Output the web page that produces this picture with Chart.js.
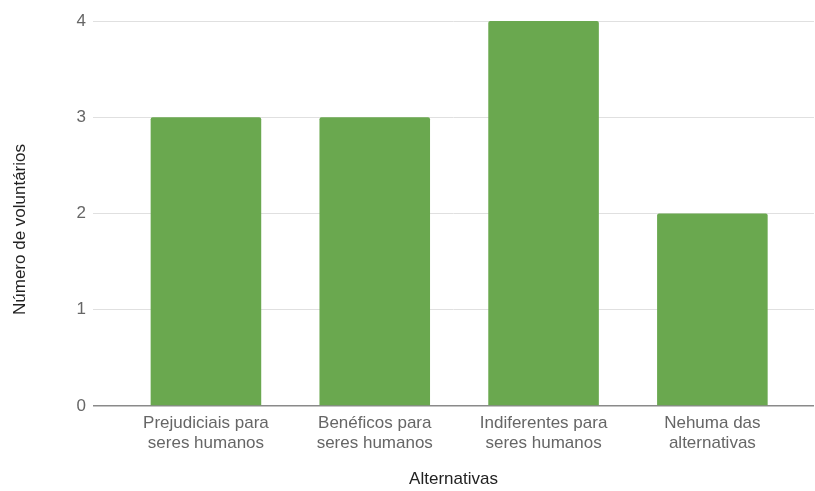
<!DOCTYPE html>
<html>
<head>
<meta charset="utf-8">
<script src="https://cdn.jsdelivr.net/npm/chart.js@4/dist/chart.umd.min.js"></script>
<style>
  html, body { margin: 0; padding: 0; background: #fff; }
  #wrap { width: 815px; height: 491px; }
</style>
</head>
<body>
<div id="wrap"><canvas id="barChart"></canvas></div>
<script>
// answers per alternative
const categories = [
    ['Prejudiciais para', 'seres humanos'],
    ['Benéficos para', 'seres humanos'],
    ['Indiferentes para', 'seres humanos'],
    ['Nehuma das', 'alternativas']
];
const volunteers = [3, 3, 4, 2];
const yTicks = [0, 1, 2, 3, 4];

const yTitle = 'Número de voluntários';
const xTitle = 'Alternativas';

const fontFamily = 'Arial, "Liberation Sans", sans-serif';

// y title is drawn by hand so it can sit a bit lower than the axis middle
const yTitlePlugin = {
    id: 'yTitle',
    afterDraw(chart) {
        const { ctx, chartArea } = chart;
        ctx.save();
        ctx.translate(20, (chartArea.top + chartArea.bottom) / 2 + 16);
        ctx.rotate(-Math.PI / 2);
        ctx.font = '17px ' + fontFamily;
        ctx.fillStyle = '#222';
        ctx.textAlign = 'center';
        ctx.textBaseline = 'middle';
        ctx.fillText(yTitle, 0, 0);
        ctx.restore();
    }
};

const ctx = document.getElementById('barChart').getContext('2d');
const myBarChart = new Chart(ctx, {
    type: 'bar',
    data: {
        datasets: [{
            data: volunteers.map((v, i) => ({ x: i, y: v })),
            backgroundColor: '#6aa84f',
            borderRadius: 2,
            borderSkipped: 'bottom',
            barPercentage: 1,
            categoryPercentage: 0.655
        }]
    },
    options: {
        responsive: true,
        maintainAspectRatio: false,
        animation: false,
        layout: {
            padding: { top: 21, right: 1, bottom: 0, left: 0 }
        },
        plugins: {
            legend: { display: false },
            tooltip: { enabled: false }
        },
        scales: {
            x: {
                type: 'linear',
                offset: false,
                min: -0.669,
                max: 3.602,
                grid: { display: false, drawTicks: false },
                border: { display: false },
                afterBuildTicks: function (scale) {
                    scale.ticks = categories.map((_, i) => ({ value: i }));
                },
                afterFit: function (scale) {
                    scale.height = 85;
                },
                ticks: {
                    autoSkip: false,
                    maxRotation: 0,
                    padding: 7,
                    color: '#666',
                    font: { family: fontFamily, size: 17 },
                    callback: function (value) {
                        return categories[value];
                    }
                },
                title: {
                    display: true,
                    text: xTitle,
                    color: '#222',
                    padding: { top: 0, bottom: 1 },
                    font: { family: fontFamily, size: 17 }
                }
            },
            y: {
                min: 0,
                max: 4,
                afterBuildTicks: function (scale) {
                    scale.ticks = yTicks.map(v => ({ value: v }));
                },
                afterFit: function (scale) {
                    scale.width = 93;
                },
                grid: {
                    drawTicks: false,
                    color: function (c) {
                        return c.tick && c.tick.value === 0 ? '#8a8a8a' : '#e0e0e0';
                    },
                    lineWidth: function (c) {
                        return c.tick && c.tick.value === 0 ? 1.5 : 1;
                    }
                },
                border: { display: false },
                ticks: {
                    padding: 7,
                    color: '#666',
                    font: { family: fontFamily, size: 17 }
                }
            }
        }
    },
    plugins: [yTitlePlugin]
});
</script>
</body>
</html>
